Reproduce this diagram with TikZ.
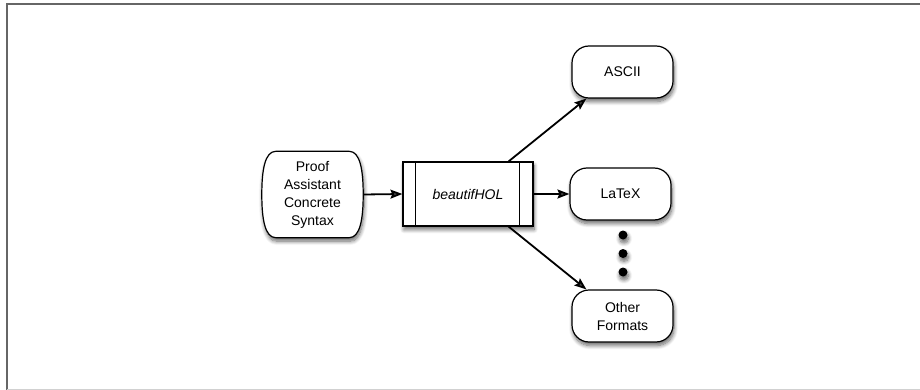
\documentclass[tikz,border=0pt]{standalone}
\usepackage{fontspec}
\setmainfont{Liberation Sans}
\usetikzlibrary{arrows.meta,shadows.blur}
\tikzset{
  sh/.style={blur shadow={shadow xshift=1pt,shadow yshift=-3.5pt,shadow blur radius=4pt,shadow blur steps=8,shadow opacity=60}},
  roundbox/.style={draw=black,line width=1.2pt,fill=white,rounded corners=17pt,minimum width=101pt,minimum height=52pt,align=center,font=\fontsize{14}{18}\selectfont,sh},
  procbox/.style={draw=black,line width=1.2pt,fill=white,minimum width=130pt,minimum height=64pt,font=\fontsize{14}{18}\selectfont\itshape,sh},
  ghost/.style={minimum width=101pt,minimum height=86pt,align=center,font=\fontsize{14}{18}\selectfont},
  arr/.style={line width=1.8pt,-{Stealth[length=12pt,width=9pt,inset=2pt]}},
  dotn/.style={circle,fill=black,inner sep=0pt,minimum size=9pt,sh},
}
\begin{document}
\begin{tikzpicture}[x=1pt,y=-1pt]
\useasboundingbox (0,0) rectangle (920,390);
% frame
\draw[line width=2pt,draw=black!60] (6.5,390) -- (6.5,4.5) -- (920,4.5);
\draw[line width=1pt,draw=black!18] (6.5,389.5) -- (920,389.5);
% proof node
\node[ghost] (p) at (312.5,194.5) {};
\path[draw=black,line width=1.2pt,fill=white,sh]
  ([xshift=14pt]p.north west) -- ([xshift=-14pt]p.north east)
  .. controls ([xshift=-3pt]p.north east) and ([yshift=24pt]p.east) .. (p.east)
  .. controls ([yshift=-24pt]p.east) and ([xshift=-3pt]p.south east) .. ([xshift=-14pt]p.south east)
  -- ([xshift=14pt]p.south west)
  .. controls ([xshift=3pt]p.south west) and ([yshift=-24pt]p.west) .. (p.west)
  .. controls ([yshift=24pt]p.west) and ([xshift=3pt]p.north west) .. cycle;
\node[ghost] at (p.center) {Proof\\Assistant\\Concrete\\Syntax};
% beautifHOL
\node[procbox] (b) at (468,194) {beautifHOL};
\draw[line width=0.8pt] ([xshift=13pt]b.north west) -- ([xshift=13pt]b.south west);
\draw[line width=0.8pt] ([xshift=-14pt]b.north east) -- ([xshift=-14pt]b.south east);
% outputs
\node[roundbox] (a) at (622.5,72) {ASCII};
\node[roundbox] (l) at (620.5,194) {LaTeX};
\node[roundbox] (o) at (622.5,316) {Other\\Formats};
% dots
\node[dotn] (d1) at (623,235) {};
\node[dotn] (d2) at (623,253.5) {};
\node[dotn] (d3) at (623,272) {};
% arrows
\draw[arr] (p.east) -- (b.west);
\draw[arr] (b.east) -- (l.west);
\draw[arr] ([xshift=-25pt]b.north east) -- ([xshift=15pt]a.south west);
\draw[arr] ([xshift=-25pt]b.south east) -- ([xshift=15pt]o.north west);
\end{tikzpicture}
\end{document}
